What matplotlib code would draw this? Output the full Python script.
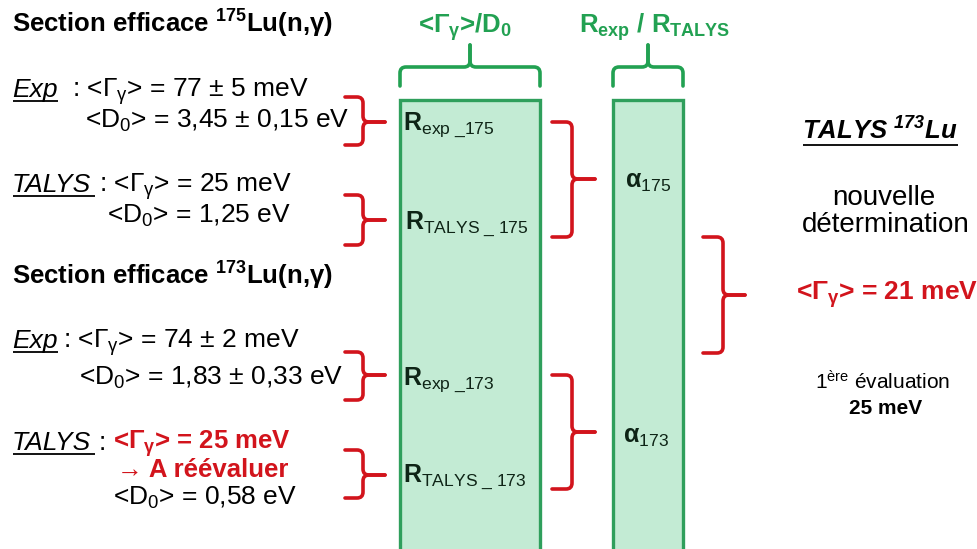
import matplotlib
matplotlib.use("Agg")
import matplotlib.pyplot as plt
import numpy as np
from matplotlib.path import Path
from matplotlib.patches import PathPatch, Rectangle

plt.rcParams["font.family"] = ["Liberation Sans", "DejaVu Sans"]
plt.rcParams["mathtext.fontset"] = "custom"
plt.rcParams["mathtext.rm"] = "Liberation Sans"
plt.rcParams["mathtext.it"] = "Liberation Sans:italic"
plt.rcParams["mathtext.bf"] = "Liberation Sans:bold"
plt.rcParams["mathtext.sf"] = "Liberation Sans"
try:
    plt.rcParams["mathtext.bfit"] = "Liberation Sans:italic:bold"
except KeyError:
    pass

# slide content
ISOTOPES = ["175", "173"]
GAMMA_EXP = ["77 ± 5", "74 ± 2"]          # meV
D0_EXP = ["3,45 ± 0,15", "1,83 ± 0,33"]   # eV
GAMMA_TALYS = ["25", "25"]                # meV
D0_TALYS = ["1,25", "0,58"]               # eV
GAMMA_NEW = "21"                          # meV
GAMMA_FIRST = "25"                        # meV

RED = "#d2141c"
GREEN = "#22a152"
BOX_EDGE = "#2f9f5c"
BOX_FILL = "#c3ebd4"
DARK = "#0e2416"
FS = 18.5
FS_REG = 19

GAM = r"<$\mathrm{\Gamma}_{\mathrm{\gamma}}$>"
GAM_B = r"<$\mathbf{\Gamma}_{\mathbf{\gamma}}$>"
D0 = r"<$\mathrm{D}_{\mathrm{0}}$>"


def brace(ax, v_arm, v_sp, v_tip, u0, u_mid, u1, color, horizontal=False,
          r=6.0, lw=2.6):
    """Curly brace: arms at v_arm, spine at v_sp, tip at v_tip, along u."""
    for u_end in (u0, u1):
        sv = np.sign(v_tip - v_arm)
        su = np.sign(u_mid - u_end)
        pts = [(v_arm, u_end), (v_sp - sv * r, u_end), (v_sp, u_end),
               (v_sp, u_end + su * r), (v_sp, u_mid - su * r), (v_sp, u_mid),
               (v_sp + sv * r, u_mid), (v_tip, u_mid)]
        codes = [Path.MOVETO, Path.LINETO, Path.CURVE3, Path.CURVE3,
                 Path.LINETO, Path.CURVE3, Path.CURVE3, Path.LINETO]
        if horizontal:
            pts = [(u, v) for v, u in pts]
        ax.add_patch(PathPatch(Path(pts, codes), fill=False, edgecolor=color,
                               lw=lw, capstyle="round", joinstyle="round"))


def underline(ax, fig, txt, y, lw=1.3, extra=0.0):
    rend = fig.canvas.get_renderer()
    bb = txt.get_window_extent(rend)
    inv = ax.transData.inverted()
    (x0, _), (x1, _) = inv.transform([(bb.x0, bb.y0), (bb.x1, bb.y0)])
    ax.plot([x0 + 1, x1 + extra], [y, y], color=txt.get_color(), lw=lw,
            solid_capstyle="butt")


fig = plt.figure(figsize=(9.78, 5.49), dpi=100)
ax = fig.add_axes([0, 0, 1, 1])
ax.set_xlim(0, 978)
ax.set_ylim(549, 0)
ax.axis("off")

# green columns
ax.add_patch(Rectangle((400, 100), 140, 460, facecolor=BOX_FILL,
                       edgecolor=BOX_EDGE, lw=2.4))
ax.add_patch(Rectangle((613, 100), 70, 460, facecolor=BOX_FILL,
                       edgecolor=BOX_EDGE, lw=2.4))
brace(ax, 86, 67, 45, 400, 470, 540, GREEN, horizontal=True)
brace(ax, 86, 67, 45, 613, 648, 683, GREEN, horizontal=True)
ax.text(465, 33, GAM_B + r"/$\mathbf{D}_{\mathbf{0}}$", color=GREEN,
        fontsize=FS, fontweight="bold", ha="center", va="baseline")
ax.text(655, 33, r"$\mathbf{R}_{\mathbf{exp}}$ / $\mathbf{R}_{\mathbf{TALYS}}$",
        color=GREEN, fontsize=FS, fontweight="bold", ha="center",
        va="baseline")

# left column, two isotopes
blocks = [
    dict(title_y=33, exp_y=97, exp_colon=72, d0e_x=85, d0e_y=128,
         tal_y=192, d0t_x=107, d0t_y=223),
    dict(title_y=285, exp_y=348, exp_colon=63, d0e_x=79, d0e_y=385,
         tal_y=450, d0t_x=113, d0t_y=505),
]
underlined = []
for i, b in enumerate(blocks):
    ax.text(12, b["title_y"],
            "Section efficace $^{\\mathbf{" + ISOTOPES[i] + "}}$Lu(n,γ)",
            fontsize=FS, fontweight="bold", va="baseline")
    t = ax.text(12, b["exp_y"], "Exp", fontsize=FS_REG, style="italic",
                va="baseline")
    underlined.append((t, b["exp_y"] + 4, 0))
    ax.text(b["exp_colon"], b["exp_y"], ": " + GAM + " = " + GAMMA_EXP[i]
            + " meV", fontsize=FS_REG, va="baseline")
    ax.text(b["d0e_x"], b["d0e_y"], D0 + " = " + D0_EXP[i] + " eV",
            fontsize=FS_REG, va="baseline")
    t = ax.text(12, b["tal_y"], "TALYS", fontsize=FS_REG, style="italic",
                va="baseline")
    underlined.append((t, b["tal_y"] + 4, 4))
    ax.text(b["d0t_x"], b["d0t_y"], D0 + " = " + D0_TALYS[i] + " eV",
            fontsize=FS_REG, va="baseline")

ax.text(99, 192, ": " + GAM + " = " + GAMMA_TALYS[0] + " meV",
        fontsize=FS_REG, va="baseline")
ax.text(99, 450, ":", fontsize=FS_REG, va="baseline")
ax.text(113, 449, GAM_B + " = " + GAMMA_TALYS[1] + " meV", fontsize=FS,
        fontweight="bold", color=RED, va="baseline")
ax.text(117, 477, "→ A réévaluer", fontsize=FS, fontweight="bold",
        color=RED, va="baseline")

# red braces, left -> boxes
for top, mid, bot in [(97, 122, 145), (195, 220, 245), (352, 375, 400),
                      (450, 475, 498)]:
    brace(ax, 345, 363, 385, top, mid, bot, RED)
for top, mid, bot in [(122, 179, 237), (375, 432, 489)]:
    brace(ax, 552, 572, 595, top, mid, bot, RED)
brace(ax, 703, 723, 745, 237, 295, 353, RED)

# labels inside the columns
box_labels = [
    (403, 130, r"$\mathbf{R}_{\mathrm{exp\ \_" + ISOTOPES[0] + "}}$"),
    (405, 229, r"$\mathbf{R}_{\mathrm{TALYS\ \_\ " + ISOTOPES[0] + "}}$"),
    (403, 385, r"$\mathbf{R}_{\mathrm{exp\ \_" + ISOTOPES[1] + "}}$"),
    (403, 482, r"$\mathbf{R}_{\mathrm{TALYS\ \_\ " + ISOTOPES[1] + "}}$"),
    (625, 188, r"$\mathbf{\alpha}_{\mathrm{" + ISOTOPES[0] + "}}$"),
    (623, 443, r"$\mathbf{\alpha}_{\mathrm{" + ISOTOPES[1] + "}}$"),
]
for x, y, s in box_labels:
    ax.text(x, y, s, fontsize=FS - 0.5, color=DARK, va="baseline")

# right side
t = ax.text(880, 140, r"TALYS $^{\mathbfit{173}}$Lu", fontsize=FS,
            fontweight="bold", style="italic", ha="center", va="baseline")
underlined.append((t, 145, 0))
ax.text(884, 205, "nouvelle", fontsize=FS + 1.5, ha="center", va="baseline")
ax.text(886, 232, "détermination", fontsize=FS + 1.5, ha="center",
        va="baseline")
ax.text(887, 300, GAM_B + " = " + GAMMA_NEW + " meV", fontsize=FS + 0.5,
        fontweight="bold", color=RED, ha="center", va="baseline")
ax.text(883, 390, r"1$^{\mathrm{ère}}$ évaluation", fontsize=FS - 3.5,
        ha="center", va="baseline")
ax.text(886, 414, GAMMA_FIRST + " meV", fontsize=FS - 3.5, fontweight="bold",
        ha="center", va="baseline")

fig.canvas.draw()
for t, y, extra in underlined:
    underline(ax, fig, t, y, extra=extra)

fig.savefig("out.png", dpi=100, facecolor="white")
